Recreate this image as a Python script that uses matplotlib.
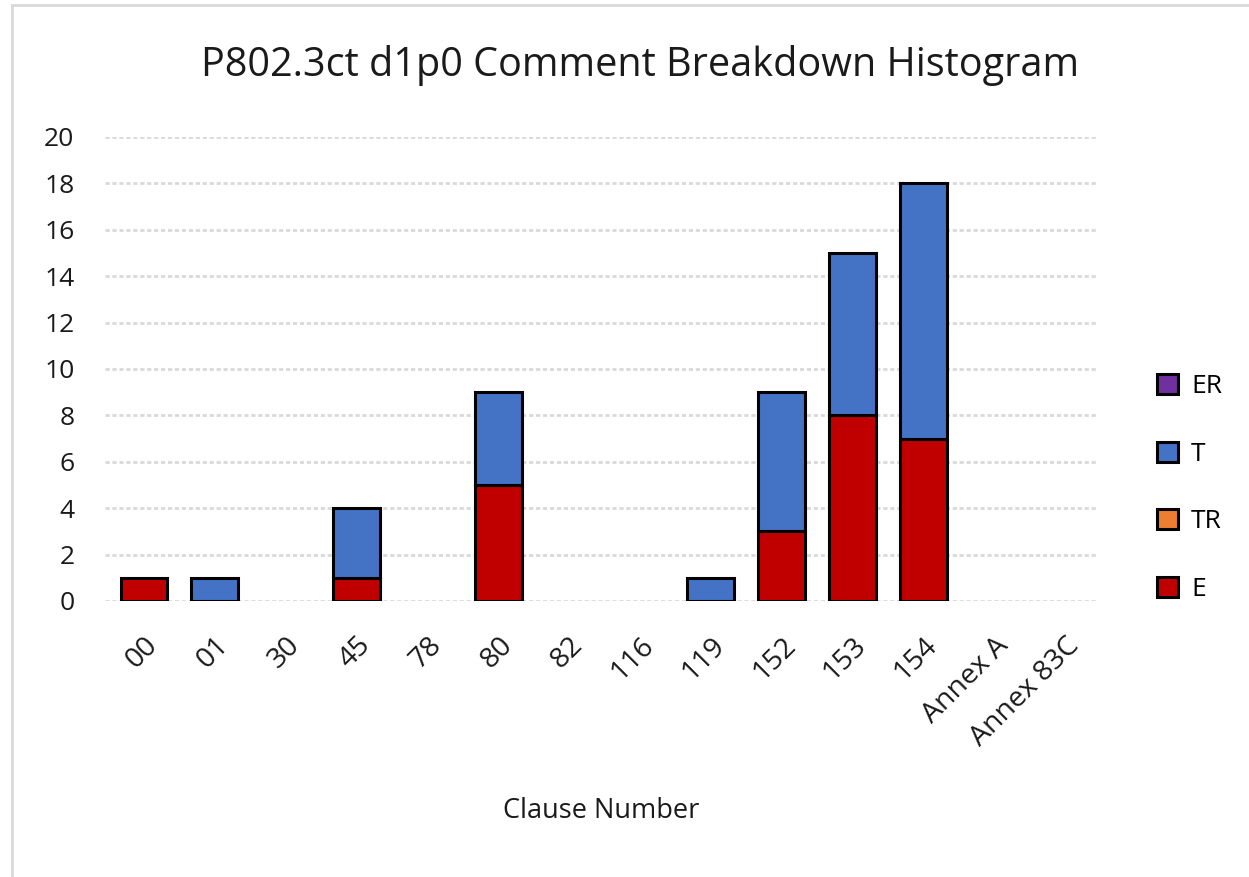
import matplotlib
matplotlib.use("Agg")
import matplotlib.pyplot as plt
import numpy as np
from matplotlib.patches import Patch

categories = ["00", "01", "30", "45", "78", "80", "82", "116", "119", "152", "153", "154", "Annex A", "Annex 83C"]
E  = [1, 0, 0, 1, 0, 5, 0, 0, 0, 3, 8, 7, 0, 0]
TR = [0, 0, 0, 0, 0, 0, 0, 0, 0, 0, 0, 0, 0, 0]
T  = [0, 1, 0, 3, 0, 4, 0, 0, 1, 6, 7, 11, 0, 0]
ER = [0, 0, 0, 0, 0, 0, 0, 0, 0, 0, 0, 0, 0, 0]

series = [("E", E, "#c00000"), ("TR", TR, "#ed7d31"), ("T", T, "#4472c4"), ("ER", ER, "#7030a0")]

plt.rcParams['font.family'] = ['Open Sans', 'DejaVu Sans']

fig = plt.figure(figsize=(12.49, 8.77), dpi=100)
ax = fig.add_axes([105/1249, 1-601/877, (1097-105)/1249, (601-137)/877])

x = np.arange(len(categories))
bottom = np.zeros(len(categories))
for name, vals, col in series:
    v = np.array(vals, dtype=float)
    mask = v > 0
    if mask.any():
        ax.bar(x[mask] + 0.05, v[mask], bottom=bottom[mask], width=0.66, color=col,
               edgecolor="black", linewidth=2.2, zorder=3)
    bottom += v

ax.set_xlim(-0.5, len(categories) - 0.5)
ax.set_ylim(0, 20)
ax.set_yticks(range(0, 21, 2))
ax.yaxis.grid(True, color="#d9d9d9", linewidth=2, linestyle=(0, (1.5, 1)), zorder=0)
ax.set_axisbelow(True)
for s in ax.spines.values():
    s.set_visible(False)
ax.tick_params(axis="both", length=0, colors="#1a1a1a")
ax.tick_params(axis="y", pad=22, labelsize=19)
ax.set_xticks(x + 0.05)
ax.set_xticklabels(categories, rotation=45, ha="right", rotation_mode="anchor")
ax.tick_params(axis="x", pad=22, labelsize=20.5)

ax.set_xlabel("Clause Number", fontsize=19.5, labelpad=33, color="#1a1a1a")
fig.text(640/1249, 1-65/877, "P802.3ct d1p0 Comment Breakdown Histogram",
         ha="center", va="center", fontsize=28.5, color="#1a1a1a")

handles = [Patch(facecolor=col, edgecolor="black", linewidth=2.2, label=name)
           for name, vals, col in reversed(series)]
leg = fig.legend(handles=handles, loc="center left", bbox_to_anchor=(1133/1249, 1-488/877),
                 frameon=False, fontsize=19, handlelength=0.8, handleheight=0.8,
                 labelspacing=1.6, handletextpad=0.5)

# outer border
border = plt.Rectangle((12/1249, -0.01), 1.1, 1 - 5/877 + 0.01, transform=fig.transFigure,
                       fill=False, edgecolor="#d9d9d9", linewidth=2)
fig.patches.append(border)

fig.savefig("out.png", dpi=100)
